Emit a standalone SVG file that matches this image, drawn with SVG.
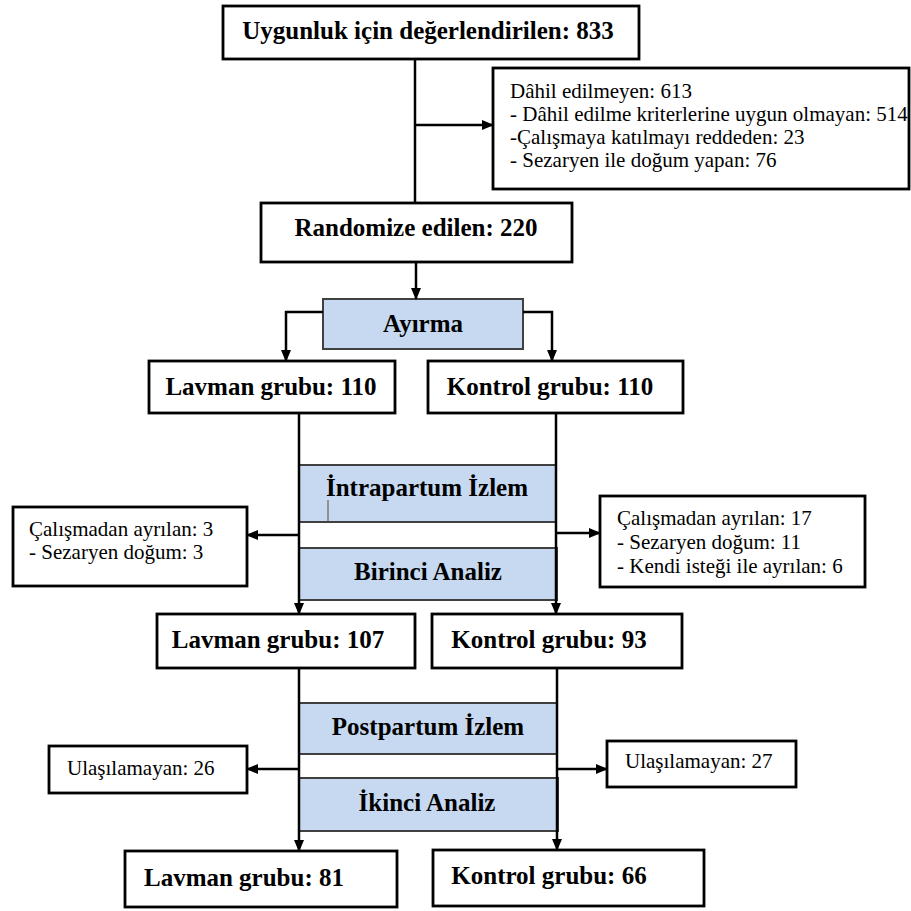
<svg xmlns="http://www.w3.org/2000/svg" width="911" height="911" viewBox="0 0 911 911">
<defs>
<marker id="ah" markerUnits="userSpaceOnUse" markerWidth="12" markerHeight="10" refX="11" refY="5" orient="auto">
<path d="M0,0 L12,5 L0,10 Z" fill="#000"/>
</marker>
<style>
.box{fill:#fff;stroke:#000;stroke-width:2.8}
.blue{fill:#c6d9f1;stroke:#404040;stroke-width:2}
.b{font-family:"Liberation Serif","Times New Roman",serif;font-weight:bold;fill:#000;text-anchor:middle;font-size:25px}
.r{font-family:"Liberation Serif","Times New Roman",serif;fill:#000;font-size:21px}
.c{fill:none;stroke:#000;stroke-width:2.5}
.ca{fill:none;stroke:#000;stroke-width:2.5;marker-end:url(#ah)}
</style>
</defs>
<rect width="911" height="911" fill="#fff"/>

<g id="n-uygunluk">
<rect class="box" x="223" y="6" width="416" height="53"/>
<text class="b" x="428" y="39">Uygunluk için değerlendirilen: 833</text>
</g>
<g id="n-dahil-edilmeyen">
<rect class="box" x="493" y="68" width="416" height="121"/>
<text class="r" x="510" y="98" font-size="20.6">Dâhil edilmeyen: 613</text>
<text class="r" x="510" y="121" font-size="20.6">- Dâhil edilme kriterlerine uygun olmayan: 514</text>
<text class="r" x="510" y="144" font-size="20.6">-Çalışmaya katılmayı reddeden: 23</text>
<text class="r" x="510" y="167" font-size="20.6">- Sezaryen ile doğum yapan: 76</text>
</g>
<g id="n-randomize">
<rect class="box" x="261" y="203" width="311" height="59"/>
<text class="b" x="416" y="236">Randomize edilen: 220</text>
</g>
<g id="n-ayirma">
<rect class="blue" x="323" y="299" width="200" height="50"/>
<text class="b" x="423" y="332" font-size="24">Ayırma</text>
</g>
<g id="n-lavman-110">
<rect class="box" x="149" y="361" width="246" height="52"/>
<text class="b" x="271" y="395">Lavman grubu: 110</text>
</g>
<g id="n-kontrol-110">
<rect class="box" x="428" y="361" width="255" height="52"/>
<text class="b" x="550" y="395">Kontrol grubu: 110</text>
</g>
<g id="n-intrapartum">
<rect class="blue" x="299" y="465" width="257" height="57"/>
<text class="b" x="427" y="496">İntrapartum İzlem</text>
<line x1="328" y1="500" x2="328" y2="522" stroke="#5a4a30" stroke-width="1"/>
</g>
<g id="n-birinci-analiz">
<rect class="blue" x="299" y="548" width="258" height="52"/>
<text class="b" x="428" y="580">Birinci Analiz</text>
</g>
<g id="n-ayrilan-3">
<rect class="box" x="13" y="507" width="234" height="79"/>
<text class="r" x="29" y="536">Çalışmadan ayrılan: 3</text>
<text class="r" x="29" y="559">- Sezaryen doğum: 3</text>
</g>
<g id="n-ayrilan-17">
<rect class="box" x="600" y="496" width="265" height="91"/>
<text class="r" x="617" y="525">Çalışmadan ayrılan: 17</text>
<text class="r" x="617" y="549">- Sezaryen doğum: 11</text>
<text class="r" x="617" y="573">- Kendi isteği ile ayrılan: 6</text>
</g>
<g id="n-lavman-107">
<rect class="box" x="157" y="614" width="258" height="54"/>
<text class="b" x="278" y="648">Lavman grubu: 107</text>
</g>
<g id="n-kontrol-93">
<rect class="box" x="432" y="614" width="250" height="54"/>
<text class="b" x="549" y="648">Kontrol grubu: 93</text>
</g>
<g id="n-postpartum">
<rect class="blue" x="299" y="703" width="258" height="51"/>
<text class="b" x="428" y="735">Postpartum İzlem</text>
</g>
<g id="n-ikinci-analiz">
<rect class="blue" x="299" y="778" width="259" height="53"/>
<text class="b" x="427" y="811">İkinci Analiz</text>
</g>
<g id="n-ulasilamayan-26">
<rect class="box" x="49" y="746" width="198" height="47"/>
<text class="r" x="67" y="775">Ulaşılamayan: 26</text>
</g>
<g id="n-ulasilamayan-27">
<rect class="box" x="607" y="741" width="189" height="46"/>
<text class="r" x="625" y="768">Ulaşılamayan: 27</text>
</g>
<g id="n-lavman-81">
<rect class="box" x="125" y="851" width="272" height="56"/>
<text class="b" x="244" y="886">Lavman grubu: 81</text>
</g>
<g id="n-kontrol-66">
<rect class="box" x="433" y="850" width="271" height="56"/>
<text class="b" x="549" y="884">Kontrol grubu: 66</text>
</g>

<g id="connectors">
<line class="c" x1="415" y1="59" x2="415" y2="203"/>
<line class="ca" x1="415" y1="125" x2="493" y2="125"/>
<line class="ca" x1="416" y1="262" x2="416" y2="299"/>
<polyline class="ca" points="323,312 286,312 286,361"/>
<polyline class="ca" points="523,312 552,312 552,361"/>
<line class="ca" x1="299" y1="413" x2="299" y2="614"/>
<line class="ca" x1="556" y1="413" x2="556" y2="614"/>
<line class="ca" x1="299" y1="535" x2="247" y2="535"/>
<line class="ca" x1="556" y1="533" x2="600" y2="533"/>
<line class="ca" x1="299" y1="668" x2="299" y2="851"/>
<line class="ca" x1="557" y1="668" x2="557" y2="850"/>
<line class="ca" x1="299" y1="769" x2="247" y2="769"/>
<line class="ca" x1="557" y1="769" x2="607" y2="769"/>
</g>
</svg>
